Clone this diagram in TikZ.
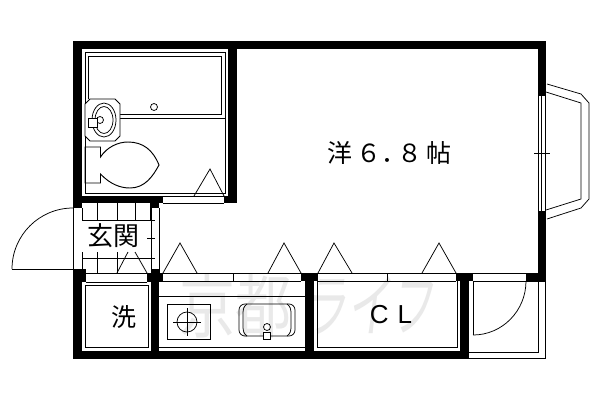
\documentclass[tikz,border=0pt]{standalone}
\usepackage{fontspec}
\setmainfont{Liberation Sans}
\newfontfamily\cjk{Noto Sans CJK JP}
\newfontfamily\cjkb[BoldFont={Noto Sans CJK JP:style=Bold}]{Noto Sans CJK JP}
\definecolor{wm}{gray}{0.915}
\tikzset{
 px/.style={x=1pt,y=-1pt},
 ln/.style={draw=black,line width=0.95pt},
 thin ln/.style={draw=black,line width=0.75pt},
 wall/.style={fill=black,draw=none},
 lab/.style={inner sep=0pt,text=black},
 wmark/.style={inner sep=0pt,text=wm,transform shape,font=\cjkb\bfseries\fontsize{70}{70}\selectfont},
}
\begin{document}
\begin{tikzpicture}[px]
\useasboundingbox (0,0) rectangle (600,400);
\fill[white] (0,0) rectangle (600,400);
% watermark
\node[wmark,xscale=0.8] (wm1) at (235,306) {京都};
\node[wmark,xscale=0.62,xslant=0.2] (wm2) at (372,306) {ライフ};
% walls
\fill[wall] (73,41) rectangle (546,49);
\fill[wall] (73,41) rectangle (82,208);
\fill[wall] (228,41) rectangle (237,203);
\fill[wall] (73,196) rectangle (163,203);
\fill[wall] (224,196) rectangle (237,203);
\fill[wall] (151,203) rectangle (159,208);
\fill[wall] (538,41) rectangle (546,95);
\fill[wall] (538,211) rectangle (546,281);
\fill[wall] (73,269) rectangle (82,359);
\fill[wall] (73,269) rectangle (86,282);
\fill[wall] (147,273) rectangle (163,282);
\fill[wall] (151,269) rectangle (159,359);
\fill[wall] (301,273) rectangle (318,281);
\fill[wall] (305,281) rectangle (314,359);
\fill[wall] (456,273) rectangle (473,281);
\fill[wall] (460,281) rectangle (469,359);
\fill[wall] (526,273) rectangle (546,281);
\fill[wall] (73,351) rectangle (469,359);
% bath
\draw[ln] (85,193) -- (85,52) -- (225,52) -- (225,193) -- cycle;
\draw[ln] (88,99) -- (88,56) -- (221,56) -- (221,114) -- (120,114);
\draw[ln] (120,118) -- (225,118);
\draw[thin ln] (154,107) circle (3.5);
\draw[thin ln,fill=white] (90,99) -- (115,99) -- (120,104) -- (120,136) -- (115,141) -- (90,141) -- (85,136) -- (85,104) -- cycle;
\draw[thin ln] (104,120) ellipse (12 and 17);
\draw[thin ln] (104,120) ellipse (9 and 13.5);
\draw[thin ln] (100,120) circle (3.5);
\draw[thin ln,fill=white] (88,118) rectangle (97,127);
\draw[ln] (100.5,147) -- (85,147) -- (85,183) -- (100.5,183) -- (100.5,174) .. controls (110,184) and (120,188) .. (130,188) .. controls (145,188) and (153,176) .. (159,165) .. controls (153,150) and (143,142) .. (128,142) .. controls (118,142) and (107,147) .. (100.5,157) -- cycle;
\draw[thin ln] (194,196) -- (210,169) -- (224,196);
\draw[thin ln] (163,196) -- (224,196) (163,203) -- (224,203);
\draw[thin ln] (224,196) -- (224,203);
% entrance
\draw[thin ln] (73,208) arc (-90:-180:61);
\draw[thin ln] (12,269) -- (73,269) (73,208) -- (73,269);
\draw[thin ln] (82,208) -- (82,220) (82,252) -- (82,269);
\draw[thin ln] (151,208) -- (151,269) (159,208) -- (159,273);
\draw[thin ln] (82,220) -- (155,220) (82,258) -- (155,258);
\foreach \x in {97,117,135,150} \draw[thin ln] (\x,203) -- (\x,220);
\foreach \x in {97,117} \draw[thin ln] (\x,252) -- (\x,273);
\draw[thin ln] (147,238) -- (155,238);
\draw[thin ln] (117,273) -- (128,252) (135,252) -- (147,273);
\draw[thin ln] (86,273) -- (147,273) (86,282) -- (147,282);
\fill[white] (86,223) rectangle (142,250);
\node[lab,font=\cjk\fontsize{26}{26}\selectfont] (genkan) at (113.5,236) {玄関};
% wash
\draw[thin ln] (85,285) rectangle (148,347);
\node[lab,font=\cjk\fontsize{25}{25}\selectfont] (sen) at (124,317) {洗};
% kitchen
\draw[thin ln] (163,273) -- (301,273) (163,281) -- (301,281) (233,273) -- (233,281);
\draw[thin ln] (159,296) -- (305,296) (159,347) -- (305,347);
\draw[thin ln] (167,304) rectangle (210,339);
\draw[thin ln] (187,322) circle (10);
\draw[thin ln] (173,322) -- (201,322) (187,308) -- (187,336);
\draw[thin ln,rounded corners=6pt] (239,304) rectangle (295,336);
\draw[thin ln] (247,304) .. controls (244,306) and (243,309) .. (243,313) -- (243,327) .. controls (243,331) and (244,334) .. (247,336);
\draw[thin ln] (287,304) .. controls (290,306) and (291,309) .. (291,313) -- (291,327) .. controls (291,331) and (290,334) .. (287,336);
\draw[thin ln] (267,327) circle (3.5);
\draw[thin ln,fill=white] (263,332) rectangle (270,339);
% triangles
\draw[thin ln] (163,273) -- (180,243) -- (197,273);
\draw[thin ln] (268,273) -- (284,243) -- (301,273);
\draw[thin ln] (318,273) -- (334,243) -- (352,273);
\draw[thin ln] (422,273) -- (439,243) -- (456,273);
% closet
\draw[thin ln] (318,273) -- (456,273) (318,281) -- (456,281) (387,273) -- (387,281);
\draw[thin ln] (317,281) -- (317,347) -- (457,347) -- (457,281);
\node[lab,font=\fontsize{26}{26}\selectfont] (cl) at (391,314.5) {C\hspace{9pt}L};
% balcony
\draw[thin ln] (473,273) -- (526,273) (473,281) -- (546,281);
\draw[thin ln] (473,281) -- (473,335);
\draw[thin ln] (526,281) arc (0:90:53 and 54);
\draw[thin ln] (545,281) -- (545,358) -- (469,358);
\draw[thin ln] (538,281) -- (538,352) -- (469,352);
% window
\draw[thin ln] (538,95) -- (538,211) (541,95) -- (541,211) (545,95) -- (545,211);
\draw[thin ln] (538,95) -- (545,95) (538,211) -- (545,211);
\draw[thin ln] (534,153) -- (550,153);
\draw[thin ln] (547,84) -- (581,94) -- (589,103) -- (589,199) -- (581,208) -- (547,219);
\draw[thin ln] (546,92) -- (581,103) -- (581,199) -- (546,210);
% room label
\node[lab,font=\cjk\fontsize{25}{25}\selectfont] (room) at (389.5,152.5) {洋\hspace{4pt}６．\hspace{-9pt}８\hspace{4pt}帖};
\end{tikzpicture}
\end{document}
